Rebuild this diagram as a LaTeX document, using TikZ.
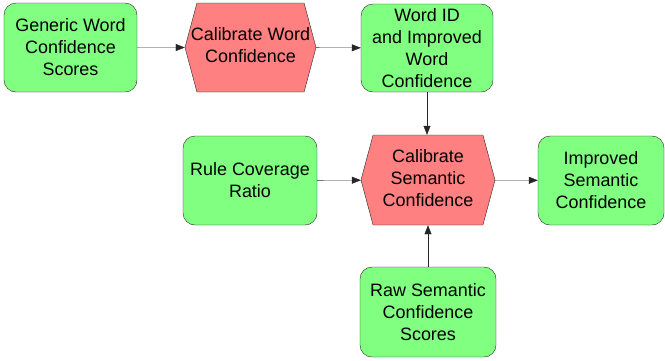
\documentclass[tikz,border=0pt]{standalone}
\usepackage{fontspec}
\setmainfont{Liberation Sans}
\usetikzlibrary{arrows.meta,shapes.symbols}
\definecolor{boxgreen}{HTML}{80FF80}
\definecolor{procred}{HTML}{FF8080}
\newcommand\hexlabel[1]{\makebox[0pt]{\begin{tabular}{@{}c@{}}#1\end{tabular}}}

\begin{document}
\begin{tikzpicture}[x=1bp, y=-1bp,
    databox/.style={draw=black!85, fill=boxgreen, rounded corners=12bp,
        align=center, inner sep=0pt, font=\fontsize{18}{22}\selectfont},
    procbox/.style={draw=black!85, fill=procred, shape=signal,
        signal to=east and west, signal pointer angle=150,
        inner sep=0pt, font=\fontsize{18}{22}\selectfont},
    flow/.style={draw=black!85, -{Triangle[length=9bp, width=7bp]}}]
    \useasboundingbox (0,0) rectangle (665,360);

    \node[databox, minimum width=133bp, minimum height=89bp] (generic) at (70.5,47.5)
        {Generic Word\\Confidence\\Scores};
    \node[procbox, minimum width=131bp, minimum height=89bp] (calword) at (250.5,47.5)
        {\hexlabel{Calibrate Word\\Confidence}};
    \node[databox, minimum width=132bp, minimum height=88bp] (wordid) at (427,48)
        {Word ID\\and Improved\\Word\\Confidence};

    \node[databox, minimum width=134bp, minimum height=89bp] (rule) at (250,180.5)
        {Rule Coverage\\Ratio};
    \node[procbox, minimum width=134bp, minimum height=90bp] (calsem) at (428,180)
        {\hexlabel{Calibrate\\Semantic\\Confidence}};
    \node[databox, minimum width=126bp, minimum height=89bp] (improved) at (601,180.5)
        {Improved\\Semantic\\Confidence};
    \node[databox, minimum width=136bp, minimum height=90bp] (raw) at (428,312)
        {Raw Semantic\\Confidence\\Scores};

    \draw[flow] (generic) -- (calword);
    \draw[flow] (calword) -- (wordid);
    \draw[flow] (wordid) -- (wordid |- calsem.north);
    \draw[flow] (rule) -- (calsem);
    \draw[flow] (calsem) -- (improved);
    \draw[flow] (raw) -- (calsem);
\end{tikzpicture}
\end{document}
